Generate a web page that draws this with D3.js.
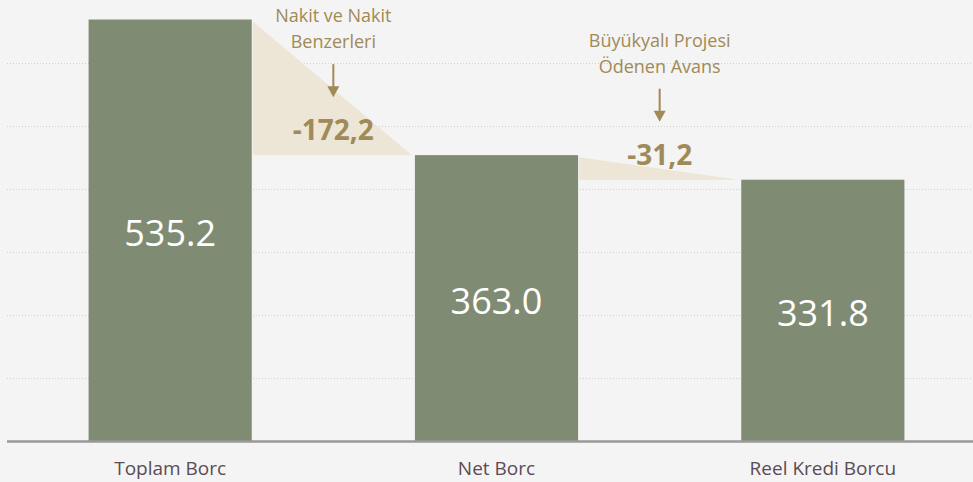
<!DOCTYPE html>
<html>
<head>
<meta charset="utf-8">
<script src="https://cdn.jsdelivr.net/npm/d3@7"></script>
<style>
  html, body { margin: 0; padding: 0; background: #f4f4f4; overflow: hidden; }
  svg { display: block; font-family: "Open Sans", sans-serif; }
</style>
</head>
<body>
<svg id="chart" width="973" height="482"></svg>
<script>
// chart data
const categories = ["Toplam Borc", "Net Borc", "Reel Kredi Borcu"];
const values = [535.2, 363.0, 331.8];
const valueLabels = ["535.2", "363.0", "331.8"];
const deltas = [-172.2, -31.2];
const deltaLabels = ["-172,2", "-31,2"];
const deltaNotes = [["Nakit ve Nakit", "Benzerleri"], ["Büyükyalı Projesi", "Ödenen Avans"]];
const yTicks = [80, 160, 240, 320, 400, 480];

const width = 973, height = 482;
const svg = d3.select("#chart");

const x = d3.scaleBand().domain(categories).range([7, 986])
    .paddingInner(0.5).paddingOuter(0.25);
const y = d3.scaleLinear().domain([0, 560]).range([441, 0]);

const gold = "#a08a57";

// gridlines
svg.append("g").selectAll("line")
    .data(yTicks)
    .join("line")
    .attr("x1", 7).attr("x2", width)
    .attr("y1", d => Math.round(y(d)) + 0.5).attr("y2", d => Math.round(y(d)) + 0.5)
    .attr("stroke", "#cfcfcf")
    .attr("stroke-dasharray", "1,2");

// connector triangles
const tris = deltas.map((d, i) => {
    const xa = x(categories[i]) + x.bandwidth() + 1;
    const xb = x(categories[i + 1]) - 3;
    const ya = y(values[i]) + 2;
    const yb = y(values[i] + d);
    return [[xa, ya], [xa, yb], [xb, yb]];
});
svg.append("g").selectAll("path")
    .data(tris)
    .join("path")
    .attr("d", d => "M" + d.join("L") + "Z")
    .attr("fill", "#ede5d6");

// bars
svg.append("g").selectAll("rect")
    .data(values)
    .join("rect")
    .attr("x", (d, i) => x(categories[i]))
    .attr("width", x.bandwidth())
    .attr("y", d => y(d))
    .attr("height", d => y(0) - y(d))
    .attr("fill", "#808b74");

// axis baseline
svg.append("line")
    .attr("x1", 7).attr("x2", width)
    .attr("y1", y(0) + 0.5).attr("y2", y(0) + 0.5)
    .attr("stroke", "#999")
    .attr("stroke-width", 2.5);

// value labels inside bars
svg.append("g").selectAll("text")
    .data(values)
    .join("text")
    .attr("x", (d, i) => x(categories[i]) + x.bandwidth() / 2)
    .attr("y", d => y(d) + (y(0) - y(d)) / 2 + 16)
    .attr("text-anchor", "middle")
    .attr("fill", "#fff")
    .attr("font-size", 36)
    .text((d, i) => valueLabels[i]);

// category labels
svg.append("g").selectAll("text")
    .data(categories)
    .join("text")
    .attr("x", d => x(d) + x.bandwidth() / 2)
    .attr("y", 475)
    .attr("text-anchor", "middle")
    .attr("fill", "#5b4b55")
    .attr("font-size", 19)
    .text(d => d);

// delta annotations
const notes = svg.append("g").selectAll("g")
    .data(deltas)
    .join("g")
    .attr("transform", (d, i) => {
        const cx = (x(categories[i]) + x.bandwidth() + x(categories[i + 1])) / 2;
        return "translate(" + cx + "," + (y(values[i] + d) - 15) + ")";
    });

notes.append("text")
    .attr("text-anchor", "middle")
    .attr("fill", gold)
    .attr("font-size", 28)
    .attr("font-weight", "bold")
    .text((d, i) => deltaLabels[i]);

notes.append("line")
    .attr("x1", 0).attr("x2", 0)
    .attr("y1", -76).attr("y2", -52)
    .attr("stroke", gold)
    .attr("stroke-width", 2);
notes.append("path")
    .attr("d", "M-6,-54L6,-54L0,-43Z")
    .attr("fill", gold);

notes.each(function(d, i) {
    const g = d3.select(this);
    deltaNotes[i].forEach((t, j) => {
        g.append("text")
            .attr("text-anchor", "middle")
            .attr("fill", gold)
            .attr("font-size", 18)
            .attr("y", -92 - (deltaNotes[i].length - 1 - j) * 26)
            .text(t);
    });
});
</script>
</body>
</html>
